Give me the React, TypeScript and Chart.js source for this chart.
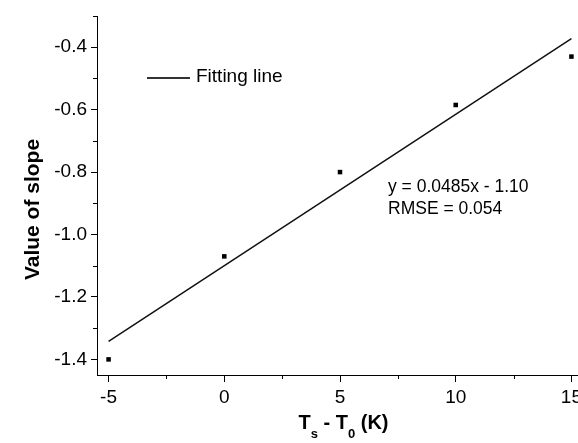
import { useEffect, useRef } from "react";
import { Chart, registerables } from "chart.js";

Chart.register(...registerables);

// Measured slope values against surface temperature offset (K)
const temperatureDiff = [-5, 0, 5, 10, 15];
const slopeValues = [-1.4, -1.07, -0.8, -0.585, -0.43];

// Linear fit parameters
const fitSlope = 0.0485;
const fitIntercept = -1.1;
const fitRmse = 0.054;
const fitRange = [-5, 15];

// Axis ticks
const xMajorTicks = [-5, 0, 5, 10, 15];
const xMinorTicks = [-2.5, 2.5, 7.5, 12.5];
const yMajorTicks = [-1.4, -1.2, -1.0, -0.8, -0.6, -0.4];
const yMinorTicks = [-1.3, -1.1, -0.9, -0.7, -0.5, -0.3];

const FONT = '"Liberation Sans", Arial, sans-serif';

const decorations = {
  id: "slopeDecorations",
  afterDraw(chart: any) {
    const ctx: CanvasRenderingContext2D = chart.ctx;
    const xs = chart.scales.x;
    const ys = chart.scales.y;
    const area = chart.chartArea;

    ctx.save();
    ctx.strokeStyle = "#000";
    ctx.lineWidth = 1;

    // minor ticks
    ctx.beginPath();
    for (const v of xMinorTicks) {
      const px = Math.round(xs.getPixelForValue(v)) + 0.5;
      ctx.moveTo(px, area.bottom);
      ctx.lineTo(px, area.bottom + 4);
    }
    for (const v of yMinorTicks) {
      const py = Math.round(ys.getPixelForValue(v)) + 0.5;
      ctx.moveTo(area.left, py);
      ctx.lineTo(area.left - 4, py);
    }
    ctx.stroke();

    // legend entry
    ctx.strokeStyle = "#333";
    ctx.lineWidth = 1.8;
    ctx.beginPath();
    ctx.moveTo(147, 78);
    ctx.lineTo(190, 78);
    ctx.stroke();
    ctx.fillStyle = "#000";
    ctx.font = `19px ${FONT}`;
    ctx.textAlign = "left";
    ctx.textBaseline = "middle";
    ctx.fillText("Fitting line", 196, 77);

    // fit annotation
    ctx.font = `17.5px ${FONT}`;
    ctx.textBaseline = "alphabetic";
    const sign = fitIntercept < 0 ? "-" : "+";
    ctx.fillText(`y = ${fitSlope}x ${sign} ${Math.abs(fitIntercept).toFixed(2)}`, 388, 192);
    ctx.fillText(`RMSE = ${fitRmse.toFixed(3)}`, 388, 213.5);

    // y axis title
    ctx.save();
    ctx.translate(39, 209.5);
    ctx.rotate(-Math.PI / 2);
    ctx.textAlign = "center";
    ctx.font = `bold 21px ${FONT}`;
    ctx.fillText("Value of slope", 0, 0);
    ctx.restore();

    // x axis title with subscripts
    const parts: [string, boolean][] = [
      ["T", false],
      ["s", true],
      [" - T", false],
      ["0", true],
      [" (K)", false],
    ];
    const bigFont = `bold 20px ${FONT}`;
    const subFont = `bold 13px ${FONT}`;
    let cx = 298.5;
    ctx.textAlign = "left";
    for (const [t, sub] of parts) {
      ctx.font = sub ? subFont : bigFont;
      ctx.fillText(t, cx, sub ? 437.5 : 428.5);
      cx += ctx.measureText(t).width;
    }
    ctx.restore();
  },
};

export default function App() {
  const canvasRef = useRef<HTMLCanvasElement | null>(null);

  useEffect(() => {
    const canvas = canvasRef.current;
    if (!canvas) return;

    const points = temperatureDiff.map((x, i) => ({ x, y: slopeValues[i] }));
    const fitLine = fitRange.map((x) => ({ x, y: fitSlope * x + fitIntercept }));

    const chart = new Chart(canvas, {
      type: "scatter",
      data: {
        datasets: [
          {
            label: "Measured",
            data: points,
            pointStyle: "rect",
            pointRadius: 3.2,
            pointBorderWidth: 0,
            backgroundColor: "#000",
            borderColor: "#000",
            showLine: false,
            order: 0,
          },
          {
            type: "line",
            label: "Fitting line",
            data: fitLine,
            borderColor: "#111",
            borderWidth: 1.5,
            pointRadius: 0,
            showLine: true,
            fill: false,
            order: 1,
          } as any,
        ],
      },
      options: {
        responsive: false,
        animation: false,
        devicePixelRatio: 1,
        layout: { padding: { top: 16, right: 17, left: 0, bottom: 0 } },
        plugins: {
          legend: { display: false },
          tooltip: { enabled: false },
          title: { display: false },
        },
        scales: {
          x: {
            type: "linear",
            min: -5.5,
            max: 15.5,
            afterBuildTicks: (s: any) => {
              s.ticks = xMajorTicks.map((value) => ({ value }));
            },
            afterFit: (s: any) => {
              s.height = 68;
            },
            grid: {
              display: true,
              drawOnChartArea: false,
              drawTicks: true,
              tickLength: 7,
              color: "#000",
              lineWidth: 1,
            },
            border: { display: true, color: "#000", width: 1 },
            ticks: {
              color: "#000",
              font: { family: FONT, size: 19 },
              padding: 4,
              maxRotation: 0,
              autoSkip: false,
              callback: (v: any) => String(v),
            },
          },
          y: {
            type: "linear",
            min: -1.45,
            max: -0.3,
            afterBuildTicks: (s: any) => {
              s.ticks = yMajorTicks.map((value) => ({ value }));
            },
            afterFit: (s: any) => {
              s.width = 97;
            },
            grid: {
              display: true,
              drawOnChartArea: false,
              drawTicks: true,
              tickLength: 6,
              color: "#000",
              lineWidth: 1,
            },
            border: { display: true, color: "#000", width: 1 },
            ticks: {
              color: "#000",
              font: { family: FONT, size: 19 },
              padding: 4,
              autoSkip: false,
              callback: (v: any) => Number(v).toFixed(1),
            },
          },
        },
      },
      plugins: [decorations],
    });

    return () => chart.destroy();
  }, []);

  return (
    <div
      style={{
        position: "fixed",
        left: 0,
        top: 0,
        width: 578,
        height: 443,
        overflow: "hidden",
        background: "#fff",
      }}
    >
      <canvas ref={canvasRef} width={600} height={443} style={{ display: "block" }} />
    </div>
  );
}
